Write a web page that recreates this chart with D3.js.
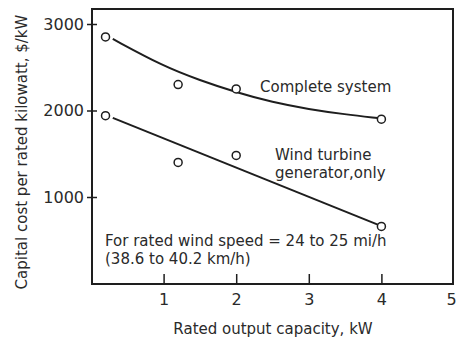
<!DOCTYPE html>
<html><head><meta charset="utf-8">
<script src="https://cdn.jsdelivr.net/npm/d3@7"></script>
<style>
body{margin:0;background:#fff;}
text{font-family:"DejaVu Sans",sans-serif;fill:#2a2a2a;}
</style></head>
<body><svg id="c" width="457" height="338"></svg>
<script>
// Data
const capacityKW = [0.2, 1.2, 2.0, 4.0];
const completeSystem = [2850, 2300, 2250, 1900];
const turbineOnly = [1940, 1400, 1480, 660];
// fitted trend curves (as drawn)
const completeFitX = [0.3, 1.0, 1.5, 2.0, 2.5, 3.0, 3.5, 3.95];
const completeFitY = [2827, 2510, 2350, 2210, 2095, 2015, 1955, 1913];
const turbineFitX = [0.3, 3.95];
const turbineFitY = [1915, 680];
const xTicks = [1, 2, 3, 4, 5];
const yTicks = [1000, 2000, 3000];

const svg = d3.select("#c");
const x = d3.scaleLinear().domain([0, 5]).range([91, 454]);
const y = d3.scaleLinear().domain([0, 3000]).range([283.5, 24]);
const ink = "#1e1e1e";

// frame
svg.append("rect").attr("x", 92).attr("y", 9).attr("width", 361).attr("height", 275)
  .attr("fill", "none").attr("stroke", ink).attr("stroke-width", 2);

// y axis
const ya = svg.append("g").attr("transform", "translate(92,0)")
  .call(d3.axisLeft(y).tickValues(yTicks).tickSize(5).tickPadding(3).tickFormat(d3.format("d")));
ya.select(".domain").remove();
ya.selectAll("line").attr("stroke", ink).attr("stroke-width", 1.5).attr("x2", 5).attr("x1", -5);
ya.selectAll("text").attr("font-size", 16).attr("font-family", "DejaVu Sans").attr("fill", "#2a2a2a");

// x axis
const xa = svg.append("g").attr("transform", "translate(0,284)")
  .call(d3.axisBottom(x).tickValues(xTicks).tickSize(-10).tickPadding(10).tickFormat(d3.format("d")));
xa.select(".domain").remove();
xa.selectAll("line").attr("stroke", ink).attr("stroke-width", 1.5);
xa.selectAll("line").filter(d => d === 5).remove();
xa.selectAll("text").attr("font-size", 16).attr("font-family", "DejaVu Sans").attr("fill", "#2a2a2a");
xa.selectAll("text").filter(d => d === 5).attr("dx", -3);

// curves
const compLine = d3.line().curve(d3.curveBasis).x(d => x(d[0])).y(d => y(d[1]));
svg.append("path").datum(completeFitX.map((v, i) => [v, completeFitY[i]]))
  .attr("d", compLine).attr("fill", "none").attr("stroke", ink).attr("stroke-width", 2);
const turbLine = d3.line().x(d => x(d[0])).y(d => y(d[1]));
svg.append("path").datum(turbineFitX.map((v, i) => [v, turbineFitY[i]]))
  .attr("d", turbLine).attr("fill", "none").attr("stroke", ink).attr("stroke-width", 2);

// points
[completeSystem, turbineOnly].forEach(series => {
  svg.append("g").selectAll("circle").data(capacityKW.map((v, i) => [v, series[i]]))
    .join("circle").attr("cx", d => x(d[0])).attr("cy", d => y(d[1])).attr("r", 4)
    .attr("fill", "#fff").attr("stroke", ink).attr("stroke-width", 1.5);
});

// labels
const lab = (t, px, py, fs, anchor) => svg.append("text").attr("x", px).attr("y", py)
  .attr("font-size", fs).attr("text-anchor", anchor || "start").attr("dominant-baseline", "middle").text(t);
lab("Complete system", 260, 87, 15);
lab("Wind turbine", 275, 155, 15);
lab("generator,only", 275, 173, 15);
lab("For rated wind speed = 24 to 25 mi/h", 105, 241, 15);
lab("(38.6 to 40.2 km/h)", 105, 259, 15);
lab("Rated output capacity, kW", 273, 329, 15, "middle");
svg.append("text").attr("transform", "translate(22,152) rotate(-90)")
  .attr("font-size", 15).attr("text-anchor", "middle").attr("dominant-baseline", "middle")
  .text("Capital cost per rated kilowatt, $/kW");
</script></body></html>
